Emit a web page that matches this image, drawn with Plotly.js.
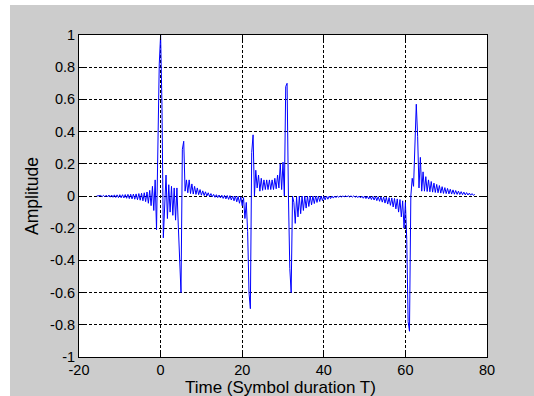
<!DOCTYPE html>
<html>
<head>
<meta charset="utf-8">
<script src="https://cdn.plot.ly/plotly-3.0.1.min.js"></script>
<style>
  html, body { margin: 0; padding: 0; background: #ffffff; }
  #chart { width: 534px; height: 396px; }
</style>
</head>
<body>
<div id="chart"></div>
<script>
// ---- Data (time in symbol durations T, amplitude) ----
// Precursor ringing before the first pulse
const precursorTime = [-15.67, -15.33, -15, -14.67, -14.33, -14, -13.67, -13.33, -13, -12.67, -12.33, -12,
  -11.67, -11.33, -11, -10.67, -10.33, -10, -9.67, -9.33, -9, -8.67, -8.33, -8, -7.67, -7.33, -7,
  -6.67, -6.33, -6, -5.67, -5.33, -5, -4.67, -4.33, -4, -3.67, -3.33, -3, -2.67, -2.33, -2, -1.67, -1.33];
const precursorAmp = [0, 0.001, -0.002, 0.003, -0.004, 0.004, -0.005, 0.005, -0.006, 0.006, -0.007, 0.006,
  -0.008, 0.007, -0.009, 0.007, -0.01, 0.008, -0.011, 0.008, -0.012, 0.009, -0.014, 0.01, -0.016, 0.011, -0.018,
  0.012, -0.02, 0.013, -0.023, 0.015, -0.026, 0.017, -0.03, 0.02, -0.035, 0.025, -0.045, 0.035, -0.06, 0.06, -0.09, 0.1];

// First pulse (+1 at t = 0) and negative pulse near t = 5
const pulse1Time = [-1, -0.67, -0.33, 0, 0.33, 0.67, 1, 1.33, 1.67, 2, 2.33, 2.67, 3, 3.33, 3.67, 4, 4.33, 4.67, 5, 5.33, 5.67];
const pulse1Amp = [-0.21, 0.2, 0.82, 1.0, 0.57, -0.26, 0.0, 0.13, -0.14, 0.07, -0.1, 0.06, -0.12, 0.05, -0.15, 0.05, -0.18, -0.35, -0.6, 0.29, 0.34];

// Decaying tail after the first pulse pair
const tail1Time = [6, 6.33, 6.67, 7, 7.33, 7.67, 8, 8.33, 8.67, 9, 9.33, 9.67, 10, 10.33, 10.67, 11, 11.33, 11.67,
  12, 12.33, 12.67, 13, 13.33, 13.67, 14, 14.33, 14.67, 15, 15.33, 15.67, 16, 16.33, 16.67, 17, 17.33, 17.67,
  18, 18.33, 18.67, 19, 19.33, 19.67, 20, 20.33, 20.67, 21];
const tail1Amp = [0.03, 0.1, 0.02, 0.1, 0.015, 0.075, 0.012, 0.06, 0.01, 0.05, 0.008, 0.04, 0.005, 0.032, 0.003, 0.026, 0.0, 0.02,
  -0.003, 0.015, -0.005, 0.01, -0.008, 0.008, -0.01, 0.006, -0.012, 0.005, -0.015, 0.004, -0.018, 0.003, -0.021, 0.002, -0.025, 0.0,
  -0.03, 0.0, -0.036, -0.002, -0.045, -0.005, -0.06, -0.01, -0.14, -0.04];

// Second and third pulses (negative near 22, positive near 31)
const pulse23Time = [21.33, 21.67, 22, 22.33, 22.67, 23, 23.33, 23.67, 24, 24.33, 24.67, 25, 25.33, 25.67, 26, 26.33,
  26.67, 27, 27.33, 27.67, 28, 28.33, 28.67, 29, 29.33, 29.67, 30, 30.33, 30.67, 31, 31.33, 31.67, 32, 32.33];
const pulse23Amp = [-0.22, -0.6, -0.7, 0.27, 0.38, 0.0, 0.16, 0.05, 0.13, 0.03, 0.11, 0.035, 0.1, 0.04, 0.1, 0.04,
  0.1, 0.04, 0.1, 0.04, 0.11, 0.045, 0.13, 0.05, 0.2, 0.04, 0.21, 0.0, 0.68, 0.7, 0.0, -0.45, -0.6, 0.0];

// Long quiet stretch between the pulse groups
const tail2Time = [32.67, 33, 33.33, 33.67, 34, 34.33, 34.67, 35, 35.33, 35.67, 36, 36.33, 36.67, 37, 37.33, 37.67,
  38, 38.33, 38.67, 39, 39.33, 39.67, 40, 40.33, 40.67, 41, 41.33, 41.67, 42, 42.33, 42.67, 43, 43.33, 43.67,
  44, 44.33, 44.67, 45, 45.33, 45.67, 46, 46.33, 46.67, 47, 47.33, 47.67, 48, 48.33, 48.67, 49, 49.33, 49.67,
  50, 50.33, 50.67, 51, 51.33, 51.67, 52, 52.33, 52.67, 53, 53.33, 53.67, 54, 54.33, 54.67, 55, 55.33, 55.67,
  56, 56.33, 56.67, 57, 57.33, 57.67, 58, 58.33, 58.67, 59, 59.33, 59.67, 60, 60.33];
const tail2Amp = [-0.04, -0.17, -0.005, -0.13, 0, -0.11, 0, -0.09, 0, -0.075, 0, -0.065, 0, -0.055, 0, -0.047,
  0, -0.04, 0, -0.034, 0, -0.029, 0, -0.024, 0, -0.02, 0, -0.016, 0, -0.013, 0, -0.01, 0, -0.008,
  0, -0.006, 0, -0.005, 0.001, -0.005, 0.001, -0.006, 0.001, -0.007, 0.001, -0.008, 0, -0.01, 0, -0.012, 0, -0.014,
  0, -0.016, -0.001, -0.019, -0.002, -0.022, -0.002, -0.025, -0.003, -0.029, -0.004, -0.033, -0.005, -0.038, -0.006, -0.044, -0.008, -0.05,
  -0.01, -0.058, -0.012, -0.068, -0.015, -0.08, -0.018, -0.1, -0.022, -0.13, -0.03, -0.2, -0.04, -0.27];

// Fourth pulse pair (negative near 61, positive near 62.7)
const pulse4Time = [60.67, 61, 61.33, 61.67, 62, 62.33, 62.67, 63, 63.33, 63.67, 64, 64.33];
const pulse4Amp = [-0.78, -0.84, 0.0, 0.11, 0.06, 0.38, 0.57, 0.37, 0.05, 0.24, 0.03, 0.15];

// Final decaying tail
const tail4Time = [64.67, 65, 65.33, 65.67, 66, 66.33, 66.67, 67, 67.33, 67.67, 68, 68.33, 68.67, 69, 69.33, 69.67,
  70, 70.33, 70.67, 71, 71.33, 71.67, 72, 72.33, 72.67, 73, 73.33, 73.67, 74, 74.33, 74.67, 75, 75.33, 75.67,
  76, 76.33, 76.67, 77];
const tail4Amp = [0.03, 0.12, 0.028, 0.1, 0.026, 0.09, 0.024, 0.08, 0.022, 0.072, 0.02, 0.065, 0.018, 0.058, 0.016, 0.052,
  0.015, 0.047, 0.013, 0.042, 0.012, 0.038, 0.011, 0.034, 0.01, 0.03, 0.009, 0.027, 0.008, 0.024, 0.007, 0.021, 0.006, 0.018,
  0.005, 0.015, 0.004, 0.01];

// Axis ticks and labels
const xTickVals = [-20, 0, 20, 40, 60, 80];
const xTickText = ['-20', '0', '20', '40', '60', '80'];
const yTickVals = [-1, -0.8, -0.6, -0.4, -0.2, 0, 0.2, 0.4, 0.6, 0.8, 1];
const yTickText = ['-1', '-0.8', '-0.6', '-0.4', '-0.2', '0', '0.2', '0.4', '0.6', '0.8', '1'];
const xTitle = 'Time (Symbol duration T)';
const yTitle = 'Amplitude';

// ---- Build the series ----
const time = [].concat(precursorTime, pulse1Time, tail1Time, pulse23Time, tail2Time, pulse4Time, tail4Time);
const amplitude = [].concat(precursorAmp, pulse1Amp, tail1Amp, pulse23Amp, tail2Amp, pulse4Amp, tail4Amp);
if (time.length !== amplitude.length) console.error('length mismatch', time.length, amplitude.length);

const trace = {
  x: time,
  y: amplitude,
  type: 'scatter',
  mode: 'lines',
  line: { color: '#0000ff', width: 1 },
  hoverinfo: 'skip'
};

const FONT = 'Liberation Sans, Arial, Helvetica, sans-serif';
const axisCommon = {
  ticks: 'inside',
  ticklen: 5,
  tickwidth: 1,
  tickcolor: '#000000',
  showline: true,
  linecolor: '#000000',
  linewidth: 1,
  mirror: 'allticks',
  showgrid: true,
  gridcolor: '#000000',
  gridwidth: 1,
  griddash: '3px,2px',
  zeroline: false,
  automargin: false,
  fixedrange: true,
  tickfont: { family: FONT, size: 14.5, color: '#000000' }
};

// plot area in pixels: left 79, right 487, top 35, bottom 357
const layout = {
  width: 534,
  height: 396,
  margin: { l: 79, r: 47, t: 35, b: 39, pad: 0 },
  paper_bgcolor: '#ffffff',
  plot_bgcolor: '#ffffff',
  showlegend: false,
  font: { family: FONT, size: 14.5, color: '#000000' },
  xaxis: Object.assign({}, axisCommon, {
    range: [-20, 80],
    tickmode: 'array',
    tickvals: xTickVals,
    ticktext: xTickText
  }),
  yaxis: Object.assign({}, axisCommon, {
    range: [-1, 1],
    tickmode: 'array',
    tickvals: yTickVals,
    ticktext: yTickText,
    title: { text: yTitle, font: { family: FONT, size: 17.5, color: '#000000' }, standoff: 6 }
  }),
  annotations: [
    { text: xTitle, xref: 'paper', yref: 'paper', x: 0.495, y: -0.0621,
      xanchor: 'center', yanchor: 'top', showarrow: false, borderpad: 0,
      font: { family: FONT, size: 17, color: '#000000' } }
  ],
  shapes: [
    { type: 'rect', xref: 'paper', yref: 'paper', layer: 'below',
      x0: -0.1691, x1: 1.1152, y0: -0.1211, y1: 1.0932,
      fillcolor: '#cccccc', line: { width: 0 } },
    { type: 'rect', xref: 'paper', yref: 'paper', layer: 'below',
      x0: 0, x1: 1, y0: 0, y1: 1,
      fillcolor: '#ffffff', line: { width: 0 } }
  ]
};

Plotly.newPlot('chart', [trace], layout, { staticPlot: true, displayModeBar: false });
</script>
</body>
</html>
